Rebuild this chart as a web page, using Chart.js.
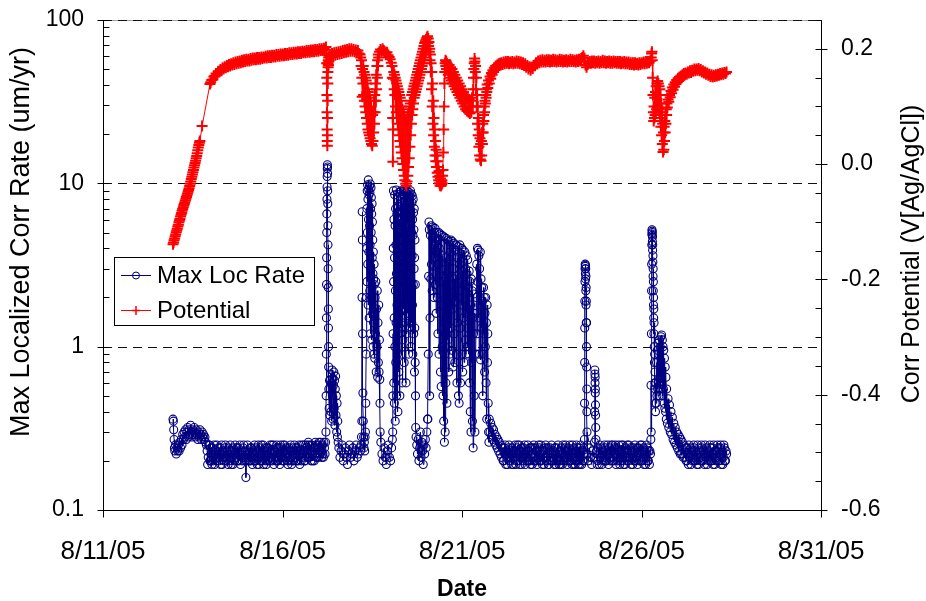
<!DOCTYPE html>
<html>
<head>
<meta charset="utf-8">
<script src="https://cdn.jsdelivr.net/npm/chart.js@4.4.1/dist/chart.umd.min.js"></script>
<style>
  body { margin: 0; background: #fff; }
  canvas { display: block; }
</style>
</head>
<body>
<canvas id="chart" width="926" height="601"></canvas>
<script>
// x values are days of August 2005 (fractional)
const dateTicks = [11, 16, 21, 26, 31];
const rateTicks = [0.1, 1, 10, 100];
const potentialTicks = [-0.6, -0.4, -0.2, 0, 0.2];
const gridRates = [1, 10, 100];

// Max Loc Rate (um/yr) as [day, rate]
const maxLocRate = [
  [12.95,0.36],[12.96,0.35],[12.97,0.31],[12.98,0.27],[12.99,0.24],[13.0,0.23],[13.02,0.25],[13.04,0.22],[13.06,0.24],[13.08,0.23],
  [13.1,0.25],[13.12,0.23],[13.14,0.26],[13.16,0.24],[13.18,0.27],[13.2,0.25],[13.22,0.29],[13.24,0.27],[13.26,0.3],[13.28,0.28],
  [13.3,0.31],[13.32,0.27],[13.34,0.3],[13.36,0.32],[13.38,0.28],[13.4,0.31],[13.42,0.29],[13.44,0.33],[13.46,0.3],[13.48,0.28],
  [13.5,0.31],[13.52,0.29],[13.54,0.32],[13.56,0.3],[13.58,0.28],[13.6,0.31],[13.62,0.29],[13.64,0.27],[13.66,0.3],[13.68,0.28],
  [13.7,0.31],[13.72,0.29],[13.74,0.27],[13.76,0.3],[13.78,0.28],[13.8,0.29],[13.82,0.27],[13.84,0.28],[13.86,0.26],[13.88,0.25],
  [13.9,0.23],[13.915,0.19],[13.93,0.21],[13.945,0.25],[13.96,0.25],[13.975,0.2],[13.99,0.2],[14.005,0.24],[14.02,0.22],[14.035,0.19],
  [14.05,0.24],[14.065,0.2],[14.08,0.21],[14.095,0.25],[14.11,0.19],[14.125,0.22],[14.14,0.23],[14.155,0.2],[14.17,0.25],[14.185,0.21],
  [14.2,0.21],[14.215,0.24],[14.23,0.2],[14.245,0.22],[14.26,0.24],[14.275,0.19],[14.29,0.22],[14.305,0.25],[14.32,0.19],[14.335,0.21],
  [14.35,0.23],[14.365,0.2],[14.38,0.21],[14.395,0.24],[14.41,0.25],[14.425,0.21],[14.44,0.2],[14.455,0.23],[14.47,0.22],[14.485,0.19],
  [14.5,0.24],[14.515,0.21],[14.53,0.2],[14.545,0.25],[14.56,0.21],[14.575,0.19],[14.59,0.23],[14.605,0.21],[14.62,0.19],[14.635,0.24],
  [14.65,0.22],[14.665,0.2],[14.68,0.25],[14.695,0.22],[14.71,0.21],[14.725,0.24],[14.74,0.2],[14.755,0.22],[14.77,0.24],[14.785,0.2],
  [14.8,0.22],[14.815,0.25],[14.83,0.19],[14.845,0.22],[14.86,0.23],[14.875,0.2],[14.89,0.21],[14.905,0.24],[14.92,0.25],[14.935,0.21],
  [14.95,0.2],[14.965,0.23],[14.98,0.158],[14.995,0.2],[15.01,0.21],[15.025,0.25],[15.04,0.23],[15.055,0.2],[15.07,0.2],[15.085,0.22],
  [15.1,0.24],[15.115,0.2],[15.13,0.21],[15.145,0.24],[15.16,0.19],[15.175,0.23],[15.19,0.22],[15.205,0.2],[15.22,0.25],[15.235,0.22],
  [15.25,0.2],[15.265,0.24],[15.28,0.23],[15.295,0.19],[15.31,0.21],[15.325,0.25],[15.34,0.19],[15.355,0.22],[15.37,0.24],[15.385,0.2],
  [15.4,0.22],[15.415,0.25],[15.43,0.2],[15.445,0.23],[15.46,0.25],[15.475,0.19],[15.49,0.21],[15.505,0.24],[15.52,0.23],[15.535,0.2],
  [15.55,0.19],[15.565,0.24],[15.58,0.22],[15.595,0.2],[15.61,0.24],[15.625,0.21],[15.64,0.2],[15.655,0.25],[15.67,0.21],[15.685,0.23],
  [15.7,0.25],[15.715,0.2],[15.73,0.22],[15.745,0.25],[15.76,0.19],[15.775,0.21],[15.79,0.23],[15.805,0.2],[15.82,0.21],[15.835,0.25],
  [15.85,0.24],[15.865,0.2],[15.88,0.2],[15.895,0.24],[15.91,0.22],[15.925,0.19],[15.94,0.25],[15.955,0.21],[15.97,0.21],[15.985,0.24],
  [16.0,0.2],[16.015,0.25],[16.03,0.23],[16.045,0.2],[16.06,0.25],[16.075,0.22],[16.09,0.21],[16.105,0.24],[16.12,0.22],[16.135,0.2],
  [16.15,0.19],[16.165,0.23],[16.18,0.24],[16.195,0.2],[16.21,0.21],[16.225,0.25],[16.24,0.23],[16.255,0.19],[16.27,0.2],[16.285,0.24],
  [16.3,0.22],[16.315,0.2],[16.33,0.25],[16.345,0.22],[16.36,0.21],[16.375,0.24],[16.39,0.2],[16.405,0.23],[16.42,0.24],[16.435,0.2],
  [16.45,0.22],[16.465,0.25],[16.48,0.19],[16.495,0.22],[16.51,0.23],[16.525,0.2],[16.54,0.25],[16.555,0.22],[16.57,0.21],[16.585,0.25],
  [16.6,0.23],[16.615,0.2],[16.63,0.2],[16.645,0.25],[16.66,0.24],[16.675,0.21],[16.69,0.22],[16.705,0.25],[16.72,0.26],[16.735,0.21],
  [16.75,0.21],[16.765,0.25],[16.78,0.23],[16.795,0.2],[16.81,0.25],[16.825,0.22],[16.84,0.2],[16.855,0.24],[16.87,0.24],[16.885,0.2],
  [16.9,0.22],[16.915,0.26],[16.93,0.25],[16.945,0.21],[16.96,0.21],[16.975,0.25],[16.99,0.24],[17.005,0.21],[17.02,0.26],[17.035,0.23],
  [17.05,0.22],[17.065,0.26],[17.08,0.23],[17.095,0.21],[17.11,0.25],[17.125,0.22],[17.14,0.21],[17.155,0.26],[17.17,0.24],[17.185,0.22],
  [17.2,0.26],[17.21,0.3],[17.215,0.5],[17.22,0.9],[17.223,1.5],[17.226,2.4],[17.229,3.5],[17.232,5],[17.235,6.5],[17.238,8],
  [17.241,9.5],[17.244,11],[17.247,12.3],[17.25,13],[17.253,12.6],[17.256,11.5],[17.259,9],[17.262,7.5],[17.265,5.5],[17.268,4.2],
  [17.271,3],[17.274,2.3],[17.277,1.7],[17.28,1.3],[17.283,1],[17.286,0.75],[17.29,0.55],
  [17.3,0.42],[17.31,0.62],[17.32,0.38],[17.33,0.55],[17.34,0.68],[17.35,0.4],[17.36,0.6],[17.37,0.35],[17.38,0.72],[17.39,0.5],
  [17.4,0.64],[17.41,0.36],[17.42,0.58],[17.43,0.7],[17.44,0.42],[17.45,0.62],[17.46,0.33],[17.47,0.55],[17.48,0.66],[17.49,0.38],
  [17.5,0.5],[17.51,0.3],[17.52,0.45],[17.53,0.28],[17.54,0.35],[17.55,0.26],
  [17.57,0.24],[17.6,0.21],[17.63,0.23],[17.66,0.25],[17.69,0.2],[17.72,0.22],[17.75,0.24],[17.78,0.21],[17.81,0.19],[17.84,0.23],
  [17.87,0.25],[17.9,0.21],[17.93,0.22],[17.96,0.24],[17.99,0.2],[18.02,0.23],[18.05,0.25],[18.08,0.21],[18.11,0.22],[18.14,0.24],
  [18.17,0.23],[18.19,0.25],
  [18.2,0.28],[18.21,0.35],[18.215,2],[18.22,6.7],[18.225,4.5],[18.23,1.2],[18.24,0.52],[18.25,0.35],[18.26,0.28],[18.27,0.24],
  [18.28,0.26],[18.29,0.23],[18.3,0.28],[18.31,0.3],[18.32,0.45],[18.33,0.9],[18.34,2],
  [18.345,4],[18.35,7],[18.355,2.5],[18.36,9],[18.365,5],[18.37,9.8],[18.375,3.2],[18.38,8],[18.385,1.8],[18.39,10.5],
  [18.395,6],[18.4,9.2],[18.405,3.8],[18.41,8.5],[18.415,1.5],[18.42,9.6],[18.425,5.5],[18.43,2.2],[18.435,8.8],[18.44,4.2],
  [18.445,9.9],[18.45,1.2],[18.455,7],[18.46,3],[18.465,9.4],[18.47,5],[18.475,8.2],[18.48,2],[18.485,6.5],[18.49,1.1],
  [18.495,7.5],[18.5,3.5],[18.505,5.8],[18.51,1.6],[18.515,4.5],[18.52,2.8],[18.525,1],[18.53,3.8],[18.535,1.4],[18.54,2.6],
  [18.545,0.9],[18.55,3.2],[18.555,1.6],
  [18.56,2.4],[18.57,0.85],[18.58,2],[18.59,1.2],[18.6,2.5],[18.61,0.7],[18.62,1.7],[18.63,1],[18.64,2.2],[18.65,0.65],
  [18.66,1.4],[18.67,0.8],[18.68,1.8],[18.69,0.7],[18.7,1.1],[18.71,0.63],[18.715,0.45],[18.72,0.3],
  [18.74,0.26],[18.77,0.22],[18.8,0.2],[18.83,0.24],[18.86,0.21],[18.89,0.19],[18.92,0.23],[18.95,0.25],[18.98,0.21],[19.01,0.2],
  [19.04,0.24],[19.06,0.27],[19.07,0.3],[19.075,0.5],
  [19.08,1.2],[19.085,4],[19.09,9],[19.095,2.5],[19.1,0.6],[19.105,6],[19.11,1.5],[19.115,0.45],[19.12,3.5],[19.125,8.5],
  [19.13,1],[19.135,5.5],[19.14,0.35],[19.145,2.2],[19.15,7],[19.155,0.8],[19.16,4.2],[19.165,1.4],[19.17,9.1],[19.175,2.8],
  [19.18,0.5],[19.185,6.5],[19.19,1.8],[19.195,3.8],[19.2,0.9],[19.205,8],[19.21,2.4],[19.215,0.4],[19.22,5],[19.225,1.2],
  [19.23,7.2],[19.235,3],[19.24,0.7],[19.245,8.8],[19.25,1.6],[19.255,4.5],[19.26,2],[19.265,6],[19.27,0.5],[19.275,3.4],
  [19.28,8.6],[19.285,1.3],[19.29,5.2],[19.295,2.6],[19.3,9],[19.305,0.9],[19.31,6.8],[19.315,3.6],[19.32,1.5],[19.325,8.2],
  [19.33,4],[19.335,0.6],[19.34,7.6],[19.345,2.2],[19.35,5.8],[19.355,1.1],[19.36,8.9],[19.365,3.1],[19.37,6.4],[19.375,1.7],
  [19.38,9.1],[19.385,4.8],[19.39,0.8],[19.395,7],[19.4,2.7],[19.405,8.4],[19.41,1.4],[19.415,5.5],[19.42,3.2],[19.425,8.9],
  [19.43,1.9],[19.435,6.2],[19.44,0.6],[19.445,4.4],[19.45,8.7],[19.455,2.3],[19.46,7.4],[19.465,1.2],[19.47,5],[19.475,9],
  [19.48,3.4],[19.485,6.8],[19.49,1.6],[19.495,8.5],[19.5,4.6],[19.505,2],[19.51,7.8],[19.515,0.9],[19.52,5.6],[19.525,8.8],
  [19.53,2.8],[19.535,6.6],[19.54,1.3],[19.545,8.3],[19.55,4.2],[19.555,7],[19.56,2.2],[19.565,9],[19.57,3.8],[19.575,1],
  [19.58,6.2],[19.585,8.6],[19.59,2.5],[19.595,5],[19.6,1.4],[19.605,7.6],[19.61,3.6],[19.615,8.4],[19.62,1.8],[19.625,6],
  [19.63,0.9],[19.635,4.8],[19.64,8],[19.645,2.4],[19.65,6.6],[19.655,1.2],[19.66,5.2],[19.665,3],[19.67,7],[19.675,0.7],
  [19.68,3.5],[19.685,1.3],[19.69,4.5],[19.695,0.8],[19.7,2.4],[19.705,0.5],[19.71,0.32],
  [19.72,0.28],[19.74,0.25],[19.76,0.22],[19.78,0.27],[19.8,0.2],[19.82,0.24],[19.84,0.3],[19.86,0.21],[19.88,0.26],[19.9,0.23],
  [19.92,0.19],[19.94,0.25],[19.96,0.22],[19.98,0.27],[20.0,0.24],[20.02,0.3],[20.04,0.36],
  [20.05,0.36],[20.06,0.9],[20.07,2.7],[20.08,5.8],[20.09,5.2],[20.1,0.5],[20.11,1.5],[20.12,4.8],
  [20.13,2.6],[20.14,5.5],[20.15,3.2],[20.16,5.2],[20.17,2.2],[20.18,4.6],[20.19,5.4],[20.2,2.8],[20.21,4.2],[20.22,2],
  [20.23,5],[20.24,3.5],[20.25,5.3],[20.26,2.4],[20.27,4.4],[20.28,1.6],[20.29,3.8],[20.3,5],[20.31,2],[20.32,4.5],
  [20.33,1.2],[20.34,3.2],[20.35,5],[20.36,0.9],[20.37,4],[20.38,2.5],[20.39,4.9],[20.4,0.7],[20.41,3],[20.42,0.57],
  [20.43,1.8],[20.44,4.8],[20.45,1],[20.46,3.6],[20.47,0.5],[20.48,2.5],[20.49,0.35],[20.5,4.7],[20.51,0.26],[20.52,1.4],
  [20.53,0.3],[20.54,3.5],[20.55,0.6],[20.56,4.6],[20.57,1.5],[20.58,0.45],[20.59,2.8],[20.6,4.5],[20.61,1.1],[20.62,3.3],
  [20.63,0.7],[20.64,4.4],[20.65,2],[20.66,0.9],[20.67,3.8],[20.68,1.3],[20.69,4.5],[20.7,2.4],[20.71,0.95],[20.72,3.6],
  [20.73,4.4],[20.74,1.7],[20.75,0.75],[20.76,3],[20.77,4.3],[20.78,1.2],[20.79,2.6],[20.8,0.8],[20.81,3.9],[20.82,1.9],
  [20.83,4.2],[20.84,0.9],[20.85,2.7],[20.86,0.6],[20.87,3.5],[20.88,1.4],[20.89,4.1],[20.9,0.5],[20.91,2.2],[20.92,0.45],
  [20.93,3.2],[20.94,4.2],[20.95,1.3],[20.96,0.6],[20.97,3.7],[20.98,1.8],[20.99,4],[21.0,0.9],[21.01,2.9],[21.02,0.7],
  [21.03,3.9],[21.04,1.5],[21.05,3.3],[21.06,0.8],[21.07,2.4],[21.08,3.8],[21.09,1.1],[21.1,3],[21.11,0.9],[21.12,3.6],
  [21.13,1.6],[21.14,2.8],[21.15,1],[21.16,3.4],[21.17,1.3],[21.18,2.3],[21.19,0.9],[21.2,2.9],[21.21,0.6],[21.22,2.5],
  [21.23,0.4],[21.24,1.8],[21.25,0.3],[21.26,2.6],[21.27,0.8],[21.28,2.2],[21.29,0.35],[21.3,1.5],[21.31,0.24],[21.32,1.2],
  [21.33,2.1],[21.34,0.5],[21.35,1.6],[21.36,0.3],[21.38,0.9],[21.4,2],[21.41,3.2],[21.42,1.2],[21.43,4],[21.44,2.5],
  [21.45,3.9],[21.46,1.5],[21.47,3.6],[21.48,0.9],[21.49,3],[21.5,1.8],[21.51,3.8],[21.52,0.83],[21.53,2.6],[21.54,1.3],
  [21.55,2.3],[21.56,0.9],[21.57,1.9],[21.58,0.5],[21.6,2.3],[21.61,1.2],[21.62,2],[21.63,0.7],[21.64,1.6],[21.65,1],
  [21.66,2],[21.67,0.6],[21.68,1.4],[21.69,0.36],[21.7,1.8],[21.71,0.8],[21.72,1.2],[21.73,0.45],[21.74,0.3],[21.75,0.26],
  [21.76,0.36],[21.78,0.3],[21.8,0.34],[21.82,0.28],[21.84,0.32],[21.86,0.27],[21.88,0.31],[21.9,0.26],[21.92,0.29],[21.94,0.25],
  [21.96,0.28],[21.98,0.24],[22.0,0.27],[22.02,0.23],[22.04,0.26],[22.06,0.22],[22.08,0.25],[22.1,0.21],
  [22.13,0.24],[22.145,0.2],[22.16,0.2],[22.175,0.24],[22.19,0.22],[22.205,0.25],[22.22,0.19],[22.235,0.22],[22.25,0.23],[22.265,0.19],
  [22.28,0.21],[22.295,0.24],[22.31,0.25],[22.325,0.21],[22.34,0.2],[22.355,0.23],[22.37,0.22],[22.385,0.19],[22.4,0.24],[22.415,0.21],
  [22.43,0.19],[22.445,0.23],[22.46,0.21],[22.475,0.25],[22.49,0.23],[22.505,0.19],[22.52,0.2],[22.535,0.24],[22.55,0.25],[22.565,0.2],
  [22.58,0.22],[22.595,0.25],[22.61,0.19],[22.625,0.23],[22.64,0.21],[22.655,0.19],[22.67,0.24],[22.685,0.21],[22.7,0.2],[22.715,0.24],
  [22.73,0.22],[22.745,0.25],[22.76,0.19],[22.775,0.22],[22.79,0.23],[22.805,0.2],[22.82,0.21],[22.835,0.25],[22.85,0.2],[22.865,0.23],
  [22.88,0.24],[22.895,0.2],[22.91,0.19],[22.925,0.24],[22.94,0.22],[22.955,0.19],[22.97,0.21],[22.985,0.24],[23.0,0.25],[23.015,0.21],
  [23.03,0.2],[23.045,0.24],[23.06,0.23],[23.075,0.2],[23.09,0.19],[23.105,0.23],[23.12,0.21],[23.135,0.25],[23.15,0.24],[23.165,0.2],
  [23.18,0.22],[23.195,0.25],[23.21,0.2],[23.225,0.23],[23.24,0.19],[23.255,0.22],[23.27,0.23],[23.285,0.19],[23.3,0.21],[23.315,0.24],
  [23.33,0.25],[23.345,0.21],[23.36,0.2],[23.375,0.24],[23.39,0.22],[23.405,0.19],[23.42,0.19],[23.435,0.23],[23.45,0.24],[23.465,0.2],
  [23.48,0.21],[23.495,0.25],[23.51,0.2],[23.525,0.22],[23.54,0.23],[23.555,0.2],[23.57,0.19],[23.585,0.24],[23.6,0.22],[23.615,0.19],
  [23.63,0.24],[23.645,0.21],[23.66,0.2],[23.675,0.25],[23.69,0.21],[23.705,0.19],[23.72,0.23],[23.735,0.2],[23.75,0.19],[23.765,0.24],
  [23.78,0.22],[23.795,0.19],[23.81,0.25],[23.825,0.22],[23.84,0.2],[23.855,0.24],[23.87,0.21],[23.885,0.25],[23.9,0.23],[23.915,0.2],
  [23.93,0.19],[23.945,0.23],[23.96,0.24],[23.975,0.2],[23.99,0.21],[24.005,0.25],[24.02,0.2],[24.035,0.23],[24.05,0.22],[24.065,0.19],
  [24.08,0.25],[24.095,0.21],[24.11,0.19],[24.125,0.24],[24.14,0.21],[24.155,0.19],[24.17,0.23],[24.185,0.25],[24.2,0.2],[24.215,0.24],
  [24.23,0.22],[24.245,0.19],[24.26,0.24],[24.275,0.21],[24.29,0.19],[24.305,0.25],[24.32,0.21],[24.335,0.19],[24.35,0.23],[24.365,0.2],
  [24.38,0.2],[24.39,0.24],
  [24.4,0.22],[24.41,0.27],[24.413,0.45],[24.416,0.8],[24.419,1.3],[24.422,1.9],[24.425,2.5],[24.428,3],[24.431,3.2],[24.434,3.1],
  [24.437,2.8],[24.44,3.15],[24.443,2.6],[24.446,3],[24.449,2.2],[24.452,2.7],[24.455,1.8],[24.458,2.3],[24.461,1.4],[24.464,1.9],
  [24.467,1],[24.47,1.4],[24.473,0.75],[24.476,0.55],[24.479,0.4],[24.482,0.3],[24.486,0.25],
  [24.49,0.22],[24.52,0.2],[24.55,0.24],[24.58,0.21],[24.61,0.19],[24.64,0.23],[24.67,0.21],
  [24.69,0.26],[24.695,0.4],[24.7,0.72],[24.703,0.68],[24.706,0.6],[24.709,0.65],[24.712,0.52],[24.715,0.55],[24.718,0.44],[24.721,0.38],
  [24.725,0.32],[24.73,0.27],
  [24.75,0.23],[24.765,0.19],[24.78,0.2],[24.795,0.24],[24.81,0.22],[24.825,0.19],[24.84,0.25],[24.855,0.21],[24.87,0.21],[24.885,0.24],
  [24.9,0.19],[24.915,0.22],[24.93,0.23],[24.945,0.2],[24.96,0.21],[24.975,0.25],[24.99,0.24],[25.005,0.2],[25.02,0.2],[25.035,0.23],
  [25.05,0.22],[25.065,0.25],[25.08,0.19],[25.095,0.22],[25.11,0.24],[25.125,0.2],[25.14,0.21],[25.155,0.25],[25.17,0.23],[25.185,0.2],
  [25.2,0.25],[25.215,0.21],[25.23,0.2],[25.245,0.24],[25.26,0.22],[25.275,0.25],[25.29,0.19],[25.305,0.22],[25.32,0.24],[25.335,0.2],
  [25.35,0.21],[25.365,0.25],[25.38,0.23],[25.395,0.19],[25.41,0.2],[25.425,0.23],[25.44,0.25],[25.455,0.2],[25.47,0.22],[25.485,0.25],
  [25.5,0.19],[25.515,0.23],[25.53,0.21],[25.545,0.19],[25.56,0.24],[25.575,0.21],[25.59,0.2],[25.605,0.25],[25.62,0.23],[25.635,0.2],
  [25.65,0.25],[25.665,0.21],[25.68,0.21],[25.695,0.24],[25.71,0.19],[25.725,0.23],[25.74,0.22],[25.755,0.19],[25.77,0.24],[25.785,0.21],
  [25.8,0.2],[25.815,0.25],[25.83,0.23],[25.845,0.2],[25.86,0.21],[25.875,0.24],[25.89,0.19],[25.905,0.22],[25.92,0.24],[25.935,0.2],
  [25.95,0.22],[25.965,0.25],[25.98,0.2],[25.995,0.23],[26.01,0.25],[26.025,0.2],[26.04,0.21],[26.055,0.24],[26.07,0.19],[26.085,0.22],
  [26.1,0.23],[26.115,0.19],[26.13,0.21],[26.145,0.25],[26.16,0.24],[26.175,0.2],[26.19,0.2],[26.205,0.23],[26.22,0.19],[26.235,0.23],
  [26.25,0.22],
  [26.26,0.27],[26.265,0.58],[26.27,0.3],[26.275,1.2],[26.28,2.2],[26.283,3.2],[26.286,4.2],[26.289,4.9],[26.292,5.2],[26.295,5.1],
  [26.298,4.8],[26.301,5],[26.304,4.4],[26.307,4.7],[26.31,3.9],[26.313,4.2],[26.316,3.3],[26.319,3.6],[26.322,2.7],[26.325,3],
  [26.328,2.2],[26.331,2.5],[26.334,1.8],[26.337,2],[26.34,1.5],[26.343,1.7],[26.346,1.2],[26.35,1.4],[26.355,1],[26.36,0.8],
  [26.365,0.9],[26.37,0.6],[26.375,0.7],[26.38,0.45],[26.385,0.55],[26.39,0.4],
  [26.4,0.6],[26.41,0.45],[26.42,0.8],[26.43,0.5],[26.44,0.95],[26.45,0.55],[26.46,1.05],[26.47,0.6],[26.48,0.9],[26.49,0.5],
  [26.5,1.1],[26.51,0.65],[26.52,1],[26.53,0.55],[26.54,1.15],[26.55,0.7],[26.56,1.18],[26.57,0.6],[26.58,1.1],[26.59,0.5],
  [26.6,1],[26.61,0.55],[26.62,0.95],[26.63,0.45],[26.64,0.85],[26.65,0.42],[26.66,0.75],[26.67,0.4],[26.68,0.65],[26.69,0.36],
  [26.7,0.55],
  [26.72,0.34],[26.74,0.48],[26.76,0.32],[26.78,0.44],[26.8,0.3],[26.82,0.4],[26.84,0.29],[26.86,0.37],[26.88,0.27],[26.9,0.34],
  [26.92,0.26],[26.94,0.32],[26.96,0.25],[26.98,0.3],[27.0,0.24],[27.02,0.29],[27.04,0.23],[27.06,0.28],[27.08,0.22],[27.1,0.27],
  [27.12,0.22],[27.14,0.26],[27.16,0.21],[27.18,0.25],[27.2,0.21],
  [27.23,0.24],[27.245,0.2],[27.26,0.2],[27.275,0.24],[27.29,0.22],[27.305,0.19],[27.32,0.25],[27.335,0.21],[27.35,0.21],[27.365,0.24],
  [27.38,0.19],[27.395,0.22],[27.41,0.23],[27.425,0.2],[27.44,0.21],[27.455,0.25],[27.47,0.24],[27.485,0.2],[27.5,0.2],[27.515,0.23],
  [27.53,0.22],[27.545,0.19],[27.56,0.25],[27.575,0.21],[27.59,0.19],[27.605,0.24],[27.62,0.23],[27.635,0.2],[27.65,0.21],[27.665,0.25],
  [27.68,0.24],[27.695,0.2],[27.71,0.2],[27.725,0.23],[27.74,0.22],[27.755,0.19],[27.77,0.25],[27.785,0.22],[27.8,0.21],[27.815,0.24],
  [27.83,0.19],[27.845,0.22],[27.86,0.23],[27.875,0.2],[27.89,0.21],[27.905,0.25],[27.92,0.24],[27.935,0.2],[27.95,0.2],[27.965,0.24],
  [27.98,0.22],[27.995,0.19],[28.01,0.25],[28.025,0.21],[28.04,0.19],[28.055,0.23],[28.07,0.23],[28.085,0.2],[28.1,0.21],[28.115,0.25],
  [28.13,0.24],[28.145,0.2],[28.16,0.2],[28.175,0.24],[28.19,0.22],[28.205,0.25],[28.22,0.19],[28.235,0.22],[28.25,0.23],[28.265,0.19],
  [28.28,0.21],[28.295,0.25],[28.31,0.24],[28.325,0.2],[28.34,0.2],[28.355,0.23],[28.37,0.22]
];

// Corr Potential (V vs Ag/AgCl) as [day, volts]
const corrPotential = [
  [12.95,-0.139],[12.965,-0.136],[12.98,-0.132],[12.995,-0.129],[13.01,-0.125],[13.025,-0.122],[13.04,-0.118],[13.055,-0.115],[13.07,-0.112],[13.085,-0.108],
  [13.1,-0.105],[13.115,-0.101],[13.13,-0.098],[13.145,-0.095],[13.16,-0.091],[13.175,-0.088],[13.19,-0.085],[13.205,-0.081],[13.22,-0.078],[13.235,-0.075],
  [13.25,-0.072],[13.265,-0.069],[13.28,-0.066],[13.295,-0.063],[13.31,-0.06],[13.325,-0.057],[13.34,-0.054],[13.355,-0.051],[13.37,-0.048],[13.385,-0.045],
  [13.4,-0.042],[13.415,-0.038],[13.43,-0.034],[13.445,-0.03],[13.46,-0.026],[13.475,-0.022],[13.49,-0.018],[13.505,-0.014],[13.52,-0.01],[13.535,-0.006],
  [13.55,-0.002],[13.565,0.002],[13.58,0.006],[13.595,0.01],[13.61,0.014],[13.625,0.019],[13.64,0.024],[13.655,0.029],[13.67,0.033],[13.685,0.037],
  [13.7,0.04],[13.76,0.066],[13.98,0.139],
  [14.0,0.142],[14.03,0.146],[14.06,0.147],[14.09,0.152],[14.12,0.153],[14.15,0.157],[14.18,0.156],[14.21,0.161],[14.24,0.16],[14.27,0.164],
  [14.3,0.162],[14.33,0.167],[14.36,0.165],[14.39,0.169],[14.42,0.167],[14.45,0.171],[14.48,0.169],[14.51,0.173],[14.54,0.17],[14.57,0.174],
  [14.6,0.172],[14.63,0.176],[14.66,0.173],[14.69,0.177],[14.72,0.174],[14.75,0.178],[14.78,0.175],[14.81,0.179],[14.84,0.176],[14.87,0.18],
  [14.9,0.177],[14.93,0.181],[14.96,0.178],[14.99,0.182],[15.02,0.179],[15.05,0.182],[15.08,0.179],[15.11,0.183],[15.14,0.18],[15.17,0.184],
  [15.2,0.181],[15.23,0.184],[15.26,0.181],[15.29,0.185],[15.32,0.182],[15.35,0.185],[15.38,0.182],[15.41,0.186],[15.44,0.183],[15.47,0.186],
  [15.5,0.184],[15.53,0.187],[15.56,0.184],[15.59,0.188],[15.62,0.185],[15.65,0.188],[15.68,0.185],[15.71,0.189],[15.74,0.186],[15.77,0.189],
  [15.8,0.186],[15.83,0.19],[15.86,0.187],[15.89,0.19],[15.92,0.187],[15.95,0.191],[15.98,0.188],[16.01,0.191],[16.04,0.188],[16.07,0.192],
  [16.1,0.189],[16.13,0.192],[16.16,0.189],[16.19,0.193],[16.22,0.19],[16.25,0.193],[16.28,0.19],[16.31,0.194],[16.34,0.191],[16.37,0.194],
  [16.4,0.191],[16.43,0.195],[16.46,0.192],[16.49,0.195],[16.52,0.192],[16.55,0.196],[16.58,0.193],[16.61,0.196],[16.64,0.193],[16.67,0.197],
  [16.7,0.194],[16.73,0.197],[16.76,0.194],[16.79,0.198],[16.82,0.195],[16.85,0.198],[16.88,0.195],[16.91,0.199],[16.94,0.196],[16.97,0.199],
  [17.0,0.196],[17.03,0.2],[17.06,0.197],[17.09,0.2],[17.12,0.197],[17.15,0.201],[17.18,0.199],[17.21,0.203],
  [17.225,0.19],[17.23,0.175],[17.234,0.15],[17.237,0.12],[17.24,0.09],[17.243,0.06],[17.246,0.04],[17.249,0.032],[17.252,0.05],[17.255,0.08],
  [17.258,0.11],[17.261,0.14],[17.264,0.16],[17.268,0.175],[17.272,0.168],[17.276,0.18],[17.28,0.172],[17.285,0.185],[17.29,0.178],[17.3,0.188],
  [17.32,0.19],[17.35,0.186],[17.38,0.192],[17.41,0.188],[17.44,0.193],[17.47,0.189],[17.5,0.194],[17.53,0.19],[17.56,0.195],[17.59,0.191],
  [17.62,0.196],[17.65,0.192],[17.68,0.197],[17.71,0.193],[17.74,0.198],[17.77,0.194],[17.8,0.199],[17.83,0.195],[17.86,0.2],[17.89,0.196],
  [17.92,0.2],[17.95,0.196],[17.98,0.199],[18.01,0.195],[18.04,0.198],[18.07,0.194],[18.1,0.197],[18.13,0.192],[18.16,0.19],
  [18.18,0.185],[18.19,0.17],[18.2,0.18],[18.21,0.15],[18.22,0.117],[18.23,0.165],[18.24,0.14],[18.25,0.17],[18.26,0.12],[18.27,0.16],
  [18.28,0.11],[18.29,0.155],[18.3,0.1],[18.31,0.15],[18.32,0.09],[18.33,0.145],[18.34,0.08],[18.35,0.14],[18.36,0.07],[18.37,0.13],
  [18.38,0.06],[18.39,0.125],[18.4,0.055],[18.41,0.12],[18.42,0.05],[18.43,0.115],[18.44,0.045],[18.45,0.11],[18.46,0.04],[18.47,0.1],
  [18.48,0.035],[18.49,0.09],[18.5,0.032],[18.51,0.085],[18.52,0.04],[18.53,0.09],[18.54,0.055],[18.55,0.11],[18.56,0.07],[18.57,0.12],
  [18.58,0.09],[18.59,0.14],[18.6,0.11],[18.61,0.155],[18.62,0.13],[18.63,0.17],[18.64,0.15],[18.65,0.18],[18.66,0.17],[18.67,0.19],
  [18.68,0.185],
  [18.7,0.195],[18.73,0.199],[18.76,0.196],[18.79,0.2],[18.82,0.197],[18.85,0.195],[18.88,0.192],[18.91,0.194],[18.94,0.189],[18.97,0.186],
  [19.0,0.182],[19.03,0.176],
  [19.05,0.17],[19.06,0.15],[19.07,0.08],[19.075,0.004],[19.08,0.06],[19.09,0.148],[19.1,0.16],[19.11,0.13],[19.12,0.155],[19.13,0.12],
  [19.14,0.15],[19.15,0.1],[19.16,0.145],[19.17,0.09],[19.18,0.14],[19.19,0.08],[19.2,0.135],[19.21,0.07],[19.22,0.13],[19.23,0.06],
  [19.24,0.125],[19.25,0.05],[19.26,0.12],[19.27,0.04],[19.28,0.115],[19.29,0.03],[19.3,0.11],[19.31,0.02],[19.32,0.1],[19.33,0.01],
  [19.34,0.095],[19.35,0],[19.36,0.09],[19.37,-0.01],[19.38,0.085],[19.39,-0.02],[19.4,0.08],[19.41,-0.028],[19.42,0.075],[19.43,-0.034],
  [19.44,0.07],[19.45,-0.038],[19.46,0.075],[19.47,-0.03],[19.48,0.08],[19.49,-0.02],[19.5,0.085],[19.51,-0.005],[19.52,0.09],[19.53,0.01],
  [19.54,0.1],[19.55,0.03],[19.56,0.105],[19.57,0.05],[19.58,0.11],[19.59,0.07],[19.6,0.12],[19.61,0.085],[19.62,0.125],[19.63,0.095],
  [19.64,0.13],[19.65,0.105],[19.66,0.135],[19.67,0.115],[19.68,0.14],[19.69,0.12],[19.7,0.145],
  [19.71,0.125],[19.72,0.15],[19.73,0.13],[19.74,0.155],[19.75,0.135],[19.76,0.16],[19.77,0.14],[19.78,0.165],[19.79,0.145],[19.8,0.17],
  [19.81,0.15],[19.82,0.175],[19.83,0.155],[19.84,0.18],[19.85,0.16],[19.86,0.185],[19.87,0.165],[19.88,0.19],[19.89,0.17],[19.9,0.195],
  [19.91,0.175],[19.92,0.2],[19.93,0.18],[19.94,0.205],[19.95,0.185],[19.96,0.21],[19.97,0.19],[19.98,0.213],[19.99,0.195],[20.0,0.216],
  [20.01,0.2],[20.02,0.219],[20.03,0.205],[20.04,0.222],[20.05,0.21],
  [20.06,0.218],[20.07,0.205],[20.08,0.212],[20.09,0.195],[20.1,0.2],[20.11,0.18],[20.12,0.19],[20.13,0.16],[20.14,0.175],[20.15,0.13],
  [20.16,0.16],[20.17,0.1],[20.18,0.14],[20.19,0.07],[20.2,0.11],[20.21,0.05],[20.22,0.08],[20.23,0.03],[20.24,0.06],[20.25,0.015],
  [20.26,0.04],[20.27,0.005],[20.28,0.025],[20.29,-0.005],[20.3,0.015],[20.31,-0.015],[20.32,0.005],[20.33,-0.022],[20.34,-0.005],[20.35,-0.028],
  [20.36,-0.012],[20.37,-0.033],[20.38,-0.02],[20.39,-0.037],[20.4,-0.025],[20.41,-0.038],[20.42,-0.03],[20.43,-0.036],[20.44,-0.028],[20.45,-0.033],
  [20.46,-0.02],[20.47,-0.01],[20.48,0.02],[20.49,0.06],[20.5,0.1],
  [20.51,0.14],[20.52,0.16],[20.53,0.175],[20.54,0.18],[20.55,0.17],[20.56,0.178],[20.57,0.165],[20.58,0.175],
  [20.6,0.17],[20.62,0.155],[20.64,0.172],[20.66,0.15],[20.68,0.168],[20.7,0.145],[20.72,0.165],[20.74,0.14],[20.76,0.16],[20.78,0.135],
  [20.8,0.155],[20.82,0.13],[20.84,0.15],[20.86,0.125],[20.88,0.145],[20.9,0.12],[20.92,0.14],[20.94,0.115],[20.96,0.135],[20.98,0.11],
  [21.0,0.13],[21.02,0.105],[21.04,0.125],[21.06,0.1],[21.08,0.12],[21.1,0.095],[21.12,0.118],[21.14,0.092],[21.16,0.115],[21.18,0.09],
  [21.2,0.112],[21.22,0.088],[21.24,0.11],[21.26,0.09],[21.28,0.115],[21.3,0.1],
  [21.31,0.13],[21.32,0.15],[21.33,0.165],[21.34,0.175],[21.35,0.183],[21.36,0.178],[21.37,0.16],[21.38,0.17],[21.39,0.13],[21.4,0.15],
  [21.41,0.1],[21.42,0.12],[21.43,0.07],[21.44,0.1],[21.45,0.05],[21.46,0.08],[21.47,0.03],[21.48,0.06],[21.49,0.015],[21.5,0.045],
  [21.51,0.008],[21.52,0.035],[21.53,0.006],[21.54,0.04],[21.55,0.015],[21.56,0.055],[21.57,0.035],[21.58,0.07],[21.59,0.055],[21.6,0.085],
  [21.61,0.075],[21.62,0.1],[21.63,0.09],[21.64,0.11],[21.65,0.105],[21.66,0.12],[21.67,0.115],[21.68,0.13],[21.69,0.125],[21.7,0.138],
  [21.72,0.132],[21.74,0.145],[21.76,0.14],[21.78,0.152],[21.8,0.148],[21.82,0.158],[21.84,0.155],[21.86,0.163],[21.88,0.16],[21.9,0.167],
  [21.92,0.164],[21.94,0.17],[21.96,0.167],[21.98,0.172],[22.0,0.169],[22.02,0.174],[22.04,0.171],[22.06,0.175],[22.08,0.172],[22.1,0.176],
  [22.13,0.173],[22.16,0.177],[22.19,0.174],[22.22,0.178],[22.25,0.175],[22.28,0.178],[22.31,0.174],[22.34,0.177],[22.37,0.175],[22.4,0.178],
  [22.43,0.174],[22.46,0.177],[22.49,0.175],[22.52,0.179],[22.55,0.175],[22.58,0.178],[22.61,0.174],[22.64,0.177],[22.67,0.173],[22.7,0.176],
  [22.73,0.171],[22.76,0.174],[22.79,0.168],[22.82,0.171],[22.85,0.165],[22.88,0.169],[22.91,0.163],[22.94,0.167],[22.97,0.166],[23.0,0.171],
  [23.03,0.172],[23.06,0.176],[23.09,0.175],[23.12,0.179],[23.15,0.176],[23.18,0.18],[23.21,0.177],[23.24,0.181],[23.27,0.177],[23.3,0.18],
  [23.33,0.177],[23.36,0.181],[23.39,0.178],[23.42,0.181],[23.45,0.177],[23.48,0.18],[23.51,0.178],[23.54,0.182],[23.57,0.178],[23.6,0.181],
  [23.63,0.177],[23.66,0.18],[23.69,0.178],[23.72,0.182],[23.75,0.178],[23.78,0.181],[23.81,0.177],[23.84,0.18],[23.87,0.178],[23.9,0.181],
  [23.93,0.177],[23.96,0.18],[23.99,0.178],[24.02,0.182],[24.05,0.178],[24.08,0.181],[24.11,0.178],[24.14,0.18],[24.17,0.177],[24.2,0.181],
  [24.23,0.178],[24.26,0.182],[24.29,0.179],[24.32,0.183],[24.35,0.185],[24.38,0.188],[24.41,0.184],[24.44,0.172],[24.47,0.168],[24.5,0.173],
  [24.53,0.175],[24.56,0.178],[24.59,0.175],[24.62,0.179],[24.65,0.176],[24.68,0.179],[24.71,0.175],[24.74,0.178],[24.77,0.176],[24.8,0.179],
  [24.83,0.175],[24.86,0.178],[24.89,0.176],[24.92,0.18],[24.95,0.176],[24.98,0.179],[25.01,0.175],[25.04,0.178],[25.07,0.176],[25.1,0.179],
  [25.13,0.175],[25.16,0.178],[25.19,0.175],[25.22,0.179],[25.25,0.176],[25.28,0.178],[25.31,0.175],[25.34,0.178],[25.37,0.175],[25.4,0.178],
  [25.43,0.174],[25.46,0.177],[25.49,0.175],[25.52,0.178],[25.55,0.174],[25.58,0.177],[25.61,0.174],[25.64,0.177],[25.67,0.173],[25.7,0.176],
  [25.73,0.173],[25.76,0.176],[25.79,0.172],[25.82,0.176],[25.85,0.173],[25.88,0.175],[25.91,0.172],[25.94,0.176],[25.97,0.173],[26.0,0.176],
  [26.03,0.174],[26.06,0.177],[26.09,0.174],[26.12,0.178],[26.15,0.175],[26.18,0.178],[26.21,0.176],[26.24,0.179],
  [26.27,0.185],[26.28,0.192],[26.29,0.195],[26.3,0.18],[26.31,0.15],[26.32,0.12],[26.33,0.09],[26.34,0.075],[26.35,0.1],[26.36,0.08],
  [26.37,0.115],[26.38,0.085],[26.39,0.125],[26.4,0.09],[26.41,0.135],[26.42,0.095],[26.43,0.14],[26.44,0.1],[26.45,0.144],[26.46,0.1],
  [26.47,0.14],[26.48,0.095],[26.49,0.135],[26.5,0.09],[26.51,0.13],[26.52,0.08],[26.53,0.12],[26.54,0.065],[26.55,0.105],[26.56,0.05],
  [26.57,0.09],[26.58,0.035],[26.59,0.07],[26.6,0.021],[26.61,0.055],[26.62,0.025],[26.63,0.065],[26.64,0.04],[26.65,0.075],[26.66,0.055],
  [26.67,0.085],[26.68,0.07],[26.69,0.095],[26.7,0.085],[26.71,0.105],[26.72,0.098],
  [26.74,0.112],[26.76,0.108],[26.78,0.12],[26.8,0.116],[26.82,0.127],[26.84,0.123],[26.86,0.133],[26.88,0.129],[26.9,0.138],[26.92,0.134],
  [26.94,0.142],[26.96,0.139],[26.98,0.146],[27.0,0.143],[27.02,0.149],[27.04,0.146],[27.06,0.151],[27.08,0.148],[27.1,0.153],[27.12,0.15],
  [27.14,0.155],[27.16,0.152],[27.18,0.157],[27.2,0.154],
  [27.23,0.158],[27.26,0.156],[27.29,0.16],[27.32,0.158],[27.35,0.162],[27.38,0.159],[27.41,0.163],[27.44,0.161],[27.47,0.165],[27.5,0.162],
  [27.53,0.165],[27.56,0.163],[27.59,0.166],[27.62,0.162],[27.65,0.164],[27.68,0.16],[27.71,0.162],[27.74,0.158],[27.77,0.16],[27.8,0.156],
  [27.83,0.158],[27.86,0.154],[27.89,0.156],[27.92,0.152],[27.95,0.155],[27.98,0.151],[28.01,0.154],[28.04,0.152],[28.07,0.155],[28.1,0.153],
  [28.13,0.156],[28.16,0.154],[28.19,0.157],[28.22,0.155],[28.25,0.158],[28.28,0.156],[28.31,0.159],[28.34,0.157],[28.37,0.16]
];

const rateTitle = 'Max Localized Corr Rate (um/yr)';
const potentialTitle = 'Corr Potential (V[Ag/AgCl])';

const FONT = 'Liberation Sans, Arial, Helvetica, sans-serif';
const NAVY = '#000080';
const RED = '#ff0000';

const toPoints = rows => rows.map(r => ({ x: r[0], y: r[1] }));

// dashed gridlines, axis lines, tick marks and the two side titles, Excel style
const frame = {
  id: 'frame',
  beforeDatasetsDraw(chart) {
    const { ctx, chartArea: a, scales } = chart;
    ctx.save();
    ctx.lineWidth = 1;
    ctx.strokeStyle = '#a0a0a0';
    ctx.beginPath();
    ctx.moveTo(a.left, a.top + 0.5);
    ctx.lineTo(a.right, a.top + 0.5);
    ctx.stroke();
    ctx.strokeStyle = '#111';
    ctx.setLineDash([9, 6]);
    gridRates.forEach(v => {
      const py = Math.round(scales.y.getPixelForValue(v)) + 0.5;
      ctx.beginPath();
      ctx.moveTo(a.left, py);
      ctx.lineTo(a.right, py);
      ctx.stroke();
    });
    ctx.restore();
  },
  afterDatasetsDraw(chart) {
    const { ctx, chartArea: a, scales } = chart;
    const L = Math.round(a.left) + 0.5, R = Math.round(a.right) + 0.5, B = Math.round(a.bottom) + 0.5;
    ctx.save();
    ctx.strokeStyle = '#000';
    ctx.lineWidth = 1;
    ctx.beginPath();
    ctx.moveTo(L, a.top); ctx.lineTo(L, B); ctx.lineTo(R, B); ctx.lineTo(R, a.top);
    rateTicks.forEach(v => {
      const py = Math.round(scales.y.getPixelForValue(v)) + 0.5;
      ctx.moveTo(L - 6, py); ctx.lineTo(L + 6, py);
    });
    [0.1, 1, 10].forEach(d => {
      for (let m = 2; m <= 9; m++) {
        const py = Math.round(scales.y.getPixelForValue(d * m)) + 0.5;
        ctx.moveTo(L, py); ctx.lineTo(L + 6, py);
      }
    });
    for (let k = -12; k <= 5; k++) {
      const py = Math.round(scales.y1.getPixelForValue(k * 0.05)) + 0.5;
      if (k % 4 === 0) { ctx.moveTo(R - 6, py); ctx.lineTo(R + 6, py); }
      else { ctx.moveTo(R - 6, py); ctx.lineTo(R, py); }
    }
    dateTicks.forEach(v => {
      const px = Math.round(scales.x.getPixelForValue(v)) + 0.5;
      ctx.moveTo(px, B); ctx.lineTo(px, B + 7);
    });
    ctx.stroke();

    // side titles, read bottom to top
    ctx.fillStyle = '#000';
    ctx.textAlign = 'center';
    ctx.textBaseline = 'middle';
    ctx.translate(22, 242);
    ctx.rotate(-Math.PI / 2);
    ctx.font = '27px ' + FONT;
    ctx.fillText(rateTitle, 0, 0);
    ctx.setTransform(1, 0, 0, 1, 0, 0);
    ctx.translate(912, 254);
    ctx.rotate(-Math.PI / 2);
    ctx.font = '25px ' + FONT;
    ctx.fillText(potentialTitle, 0, 0);
    ctx.restore();
  }
};

// boxed legend inside the plot, as in the original
const boxLegend = {
  id: 'boxLegend',
  afterDraw(chart) {
    const { ctx } = chart;
    const x0 = 114, y0 = 257, w = 200, h = 68;
    ctx.save();
    ctx.fillStyle = '#fff';
    ctx.fillRect(x0, y0, w, h);
    ctx.strokeStyle = '#000';
    ctx.lineWidth = 1;
    ctx.strokeRect(x0 + 0.5, y0 + 0.5, w, h);
    ctx.font = '24px ' + FONT;
    ctx.textBaseline = 'middle';
    ctx.fillStyle = '#000';
    chart.data.datasets.forEach((ds, i) => {
      const cy = y0 + 18 + i * 35;
      ctx.strokeStyle = ds.borderColor;
      ctx.lineWidth = 1;
      ctx.beginPath();
      ctx.moveTo(x0 + 7, cy + 0.5); ctx.lineTo(x0 + 37, cy + 0.5);
      ctx.stroke();
      const cx = x0 + 22;
      ctx.beginPath();
      if (ds.pointStyle === 'circle') {
        ctx.arc(cx, cy + 0.5, 3.5, 0, Math.PI * 2);
      } else {
        ctx.lineWidth = 1.5;
        ctx.moveTo(cx - 4, cy + 0.5); ctx.lineTo(cx + 4, cy + 0.5);
        ctx.moveTo(cx, cy - 4); ctx.lineTo(cx, cy + 5);
      }
      ctx.stroke();
      ctx.fillText(ds.label, x0 + 43, cy + 1);
    });
    ctx.restore();
  }
};

// keep the plot box where the original has it, whatever the label overhang
const noOverhang = s => { s.paddingTop = 0; s.paddingBottom = 0; s.paddingLeft = 0; s.paddingRight = 0; };

new Chart(document.getElementById('chart'), {
  type: 'line',
  data: {
    datasets: [
      {
        label: 'Max Loc Rate',
        data: toPoints(maxLocRate),
        yAxisID: 'y',
        order: 1,
        borderColor: NAVY,
        borderWidth: 1,
        pointStyle: 'circle',
        pointRadius: 4,
        pointBorderWidth: 1.1,
        pointBorderColor: NAVY,
        pointBackgroundColor: 'rgba(0,0,0,0)',
        tension: 0
      },
      {
        label: 'Potential',
        data: toPoints(corrPotential),
        yAxisID: 'y1',
        order: 0,
        borderColor: RED,
        borderWidth: 1,
        pointStyle: 'cross',
        pointRadius: 5.5,
        pointBorderWidth: 2,
        pointBorderColor: RED,
        pointBackgroundColor: RED,
        tension: 0
      }
    ]
  },
  options: {
    responsive: false,
    animation: false,
    devicePixelRatio: 1,
    layout: { padding: { top: 20, left: 0, right: 0, bottom: 0 } },
    plugins: { legend: { display: false }, tooltip: { enabled: false } },
    scales: {
      x: {
        type: 'linear',
        position: 'bottom',
        min: 11,
        max: 31,
        afterBuildTicks: s => { s.ticks = dateTicks.map(v => ({ value: v })); },
        afterFit: s => { s.height = 91; noOverhang(s); },
        grid: { display: false, drawTicks: false },
        border: { display: false },
        ticks: {
          autoSkip: false,
          maxRotation: 0,
          padding: 26,
          color: '#000',
          font: { family: FONT, size: 26 },
          callback: v => '8/' + v + '/05'
        },
        title: {
          display: true,
          text: 'Date',
          color: '#000',
          font: { family: FONT, size: 23, weight: 'bold', lineHeight: 1 },
          padding: { top: 0, bottom: 0 }
        }
      },
      y: {
        type: 'logarithmic',
        position: 'left',
        min: 0.1,
        max: 100,
        afterBuildTicks: s => { s.ticks = rateTicks.map(v => ({ value: v })); },
        afterFit: s => { s.width = 103; noOverhang(s); },
        grid: { display: false, drawTicks: false },
        border: { display: false },
        ticks: {
          padding: 19,
          color: '#000',
          font: { family: FONT, size: 23 },
          callback: v => String(v)
        }
      },
      y1: {
        type: 'linear',
        position: 'right',
        min: -0.6,
        max: 0.25,
        afterBuildTicks: s => { s.ticks = potentialTicks.map(v => ({ value: v })); },
        afterFit: s => { s.width = 105; noOverhang(s); },
        grid: { display: false, drawTicks: false },
        border: { display: false },
        ticks: {
          padding: 20,
          color: '#000',
          font: { family: FONT, size: 23 },
          callback: v => v.toFixed(1)
        }
      }
    }
  },
  plugins: [frame, boxLegend]
});
</script>
</body>
</html>
